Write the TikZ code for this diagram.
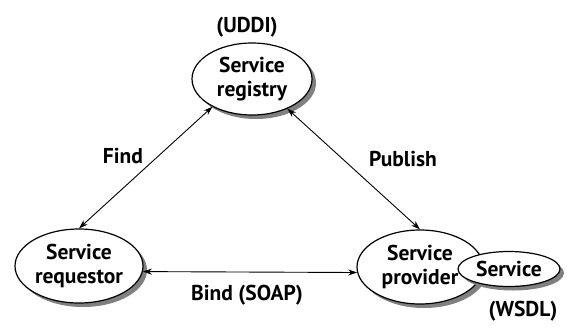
\documentclass[tikz,border=0pt]{standalone}
\usepackage{fontspec}
\setmainfont{PT Sans}
\usetikzlibrary{shapes.geometric,arrows.meta,shadows}

\begin{document}
\begin{tikzpicture}[x=1pt,y=-1pt,
  every node/.style={font=\bfseries\fontsize{21.5}{24}\selectfont},
  role/.style={ellipse,draw,line width=1.2pt,fill=white,inner sep=0pt,align=center,
    drop shadow={shadow xshift=4pt,shadow yshift=-4pt,fill=black!50,opacity=1}},
  link/.style={{Stealth[length=9pt,width=6pt]}-{Stealth[length=9pt,width=6pt]},line width=0.9pt}]
\draw[draw=none] (0,0) rectangle (567,327);
% the three roles
\node[role,minimum width=120pt,minimum height=72pt] (registry) at (252,79) {Service\\registry};
\node[role,minimum width=128pt,minimum height=74pt] (requestor) at (79,266) {Service\\requestor};
\node[role,minimum width=126pt,minimum height=74pt] (provider) at (420,267) {Service\\provider};
\node[role,minimum width=102pt,minimum height=35pt] (service) at (509,269) {Service};
% standards
\node (uddi) at (247,27) {(UDDI)};
\node (wsdl) at (523,311) {(WSDL)};
% operations
\draw[link] (registry.215) -- (requestor.north) node (find) at (123,156) {Find};
\draw[link] (registry.320) -- (provider.north) node (publish) at (403,159) {Publish};
\draw[link] (requestor.-5) -- (provider.185) node (bind) at (247,295) {Bind (SOAP)};
\end{tikzpicture}
\end{document}
